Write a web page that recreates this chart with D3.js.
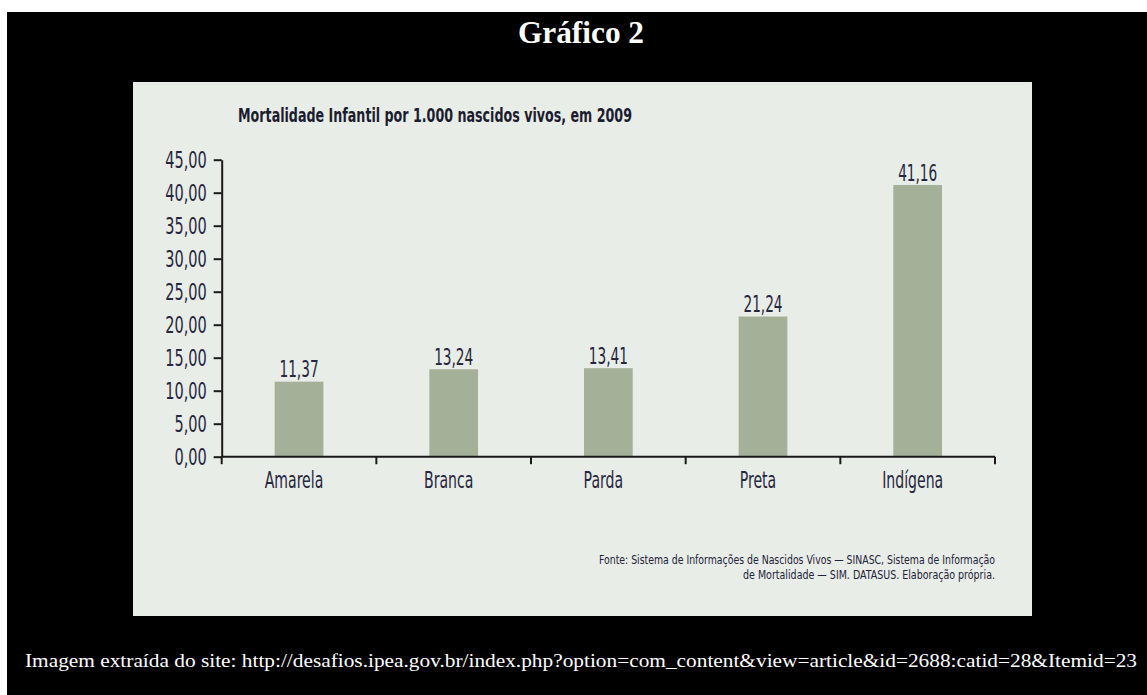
<!DOCTYPE html>
<html>
<head>
<meta charset="utf-8">
<script src="https://cdn.jsdelivr.net/npm/d3@7"></script>
<style>
  body { margin: 0; background: #fff; }
  text { font-family: "Liberation Sans Narrow", "DejaVu Sans Condensed", "Arial Narrow", sans-serif; }
  text.serif { font-family: "Liberation Serif", "Times New Roman", Times, "Nimbus Roman", "DejaVu Serif", serif; }
</style>
</head>
<body>
<svg id="chart" width="1147" height="695"></svg>
<script>
// data
const categories = ["Amarela", "Branca", "Parda", "Preta", "Indígena"];
const values = [11.37, 13.24, 13.41, 21.24, 41.16];
const yTicks = [0, 5, 10, 15, 20, 25, 30, 35, 40, 45];
const pageTitle = "Gráfico 2";
const chartTitle = "Mortalidade Infantil por 1.000 nascidos vivos, em 2009";
const sourceLines = [
  "Fonte: Sistema de Informações de Nascidos Vivos — SINASC, Sistema de Informação",
  "de Mortalidade — SIM. DATASUS. Elaboração própria."
];
const footer = "Imagem extraída do site: http://desafios.ipea.gov.br/index.php?option=com_content&view=article&id=2688:catid=28&Itemid=23";

const br = d3.formatLocale({ decimal: ",", thousands: ".", grouping: [3], currency: ["R$", ""] });
const fmt = br.format(".2f");

const ink = "#26263e";
const svg = d3.select("#chart");

// squeeze text horizontally to a target width (condensed font look)
function fitWidth(sel, target) {
  sel.each(function (d, i) {
    const t = typeof target === "function" ? target.call(this, d, i) : target;
    this.setAttribute("textLength", t);
    this.setAttribute("lengthAdjust", "spacingAndGlyphs");
  });
}
function squeeze(sel, k) {
  sel.each(function () {
    const w = this.getComputedTextLength();
    this.setAttribute("textLength", w * k);
    this.setAttribute("lengthAdjust", "spacingAndGlyphs");
  });
}

// black frame
svg.append("rect").attr("x", 7).attr("y", 12).attr("width", 1140).attr("height", 683).attr("fill", "#000");

svg.append("text")
  .attr("class", "serif")
  .attr("x", 581).attr("y", 43)
  .attr("text-anchor", "middle")
  .style("font-weight", "bold")
  .style("font-size", "31px")
  .attr("fill", "#fff")
  .text(pageTitle)
  .call(fitWidth, 126);

// chart panel
svg.append("rect").attr("x", 133).attr("y", 82).attr("width", 899).attr("height", 534).attr("fill", "#e9ede7");

const x = d3.scaleBand().domain(categories).range([221.7, 995]).padding(0);
const y = d3.scaleLinear().domain([0, 45]).range([456.7, 159.7]);
const barW = x.bandwidth() * 0.315;

svg.append("text")
  .attr("x", 238).attr("y", 122)
  .style("font-weight", "bold")
  .style("font-size", "19px")
  .attr("fill", "#1c1c30")
  .text(chartTitle)
  .call(fitWidth, 394);

// bars
svg.append("g")
  .selectAll("rect")
  .data(values)
  .join("rect")
  .attr("x", (d, i) => x(categories[i]) + (x.bandwidth() - barW) / 2)
  .attr("y", d => y(d))
  .attr("width", barW)
  .attr("height", d => y(0) - y(d))
  .attr("fill", "#a5b098");

svg.append("g")
  .selectAll("text")
  .data(values)
  .join("text")
  .attr("x", (d, i) => x(categories[i]) + x.bandwidth() / 2)
  .attr("y", d => y(d) - 4.5)
  .attr("text-anchor", "middle")
  .style("font-size", "23px")
  .attr("fill", ink)
  .text(d => fmt(d))
  .call(squeeze, 0.66);

// y axis
const yAxis = svg.append("g")
  .attr("transform", "translate(221.7,0)")
  .call(d3.axisLeft(y).tickValues(yTicks).tickFormat(fmt).tickSizeInner(8).tickSizeOuter(0).tickPadding(7));
yAxis.selectAll("path, line").attr("stroke", "#1a1a1a").attr("stroke-width", 2);
yAxis.selectAll("text")
  .attr("fill", ink)
  .style("font-size", "23px")
  .call(squeeze, 0.7);

// x axis: baseline, boundary ticks, labels
const bounds = categories.map(c => x(c)).concat([x.range()[1]]);
const xAxis = svg.append("g").attr("transform", `translate(0,${y(0)})`);
xAxis.append("line")
  .attr("x1", x.range()[0]).attr("x2", x.range()[1])
  .attr("stroke", "#1a1a1a").attr("stroke-width", 2);
xAxis.selectAll("line.tick")
  .data(bounds)
  .join("line")
  .attr("class", "tick")
  .attr("x1", d => d).attr("x2", d => d)
  .attr("y1", 0).attr("y2", 7.5)
  .attr("stroke", "#1a1a1a").attr("stroke-width", 2);
xAxis.selectAll("text")
  .data(categories)
  .join("text")
  .attr("x", d => x(d) + x.bandwidth() / 2 - 5)
  .attr("y", 31.5)
  .attr("text-anchor", "middle")
  .style("font-size", "23px")
  .attr("fill", ink)
  .text(d => d)
  .call(squeeze, 0.68);

// source note
svg.append("g")
  .selectAll("text")
  .data(sourceLines)
  .join("text")
  .attr("x", 995)
  .attr("y", (d, i) => 564 + i * 15)
  .attr("text-anchor", "end")
  .style("font-size", "13px")
  .attr("fill", "#22223a")
  .text(d => d)
  .call(fitWidth, (d, i) => (i === 0 ? 396 : 252));

// footer
svg.append("text")
  .attr("class", "serif")
  .attr("x", 25).attr("y", 667)
  .style("font-size", "18px")
  .attr("fill", "#fff")
  .text(footer)
  .call(fitWidth, 1112);
</script>
</body>
</html>
